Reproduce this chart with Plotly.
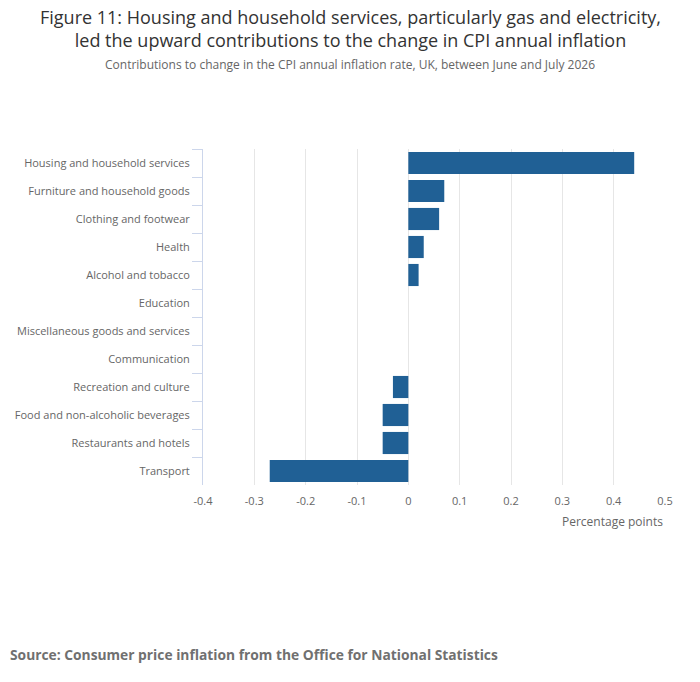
import plotly.graph_objects as go

categories = [
    "Housing and household services",
    "Furniture and household goods",
    "Clothing and footwear",
    "Health",
    "Alcohol and tobacco",
    "Education",
    "Miscellaneous goods and services",
    "Communication",
    "Recreation and culture",
    "Food and non-alcoholic beverages",
    "Restaurants and hotels",
    "Transport",
]
contributions = [0.44, 0.07, 0.06, 0.03, 0.02, 0.0, 0.0, 0.0, -0.03, -0.05, -0.05, -0.27]
x_ticks = [-0.4, -0.3, -0.2, -0.1, 0, 0.1, 0.2, 0.3, 0.4, 0.5]
x_tick_labels = ["-0.4", "-0.3", "-0.2", "-0.1", "0", "0.1", "0.2", "0.3", "0.4", "0.5"]

font = "Open Sans"

# page sits 8px in from the window corner, so plot box is placed in figure pixels
W, H = 700, 682
left, right, top, bottom = 195, 43, 141, 205
plot_w = W - left - right
plot_h = H - top - bottom


def px_x(fx):
    return (fx - left) / plot_w


def px_y(fy):
    return (H - bottom - fy) / plot_h


fig = go.Figure()
fig.add_trace(go.Bar(
    x=contributions,
    y=categories,
    orientation="h",
    marker=dict(color="#206095", line=dict(width=0)),
    hovertemplate="%{y}: %{x}<extra></extra>",
))

fig.update_layout(
    width=W,
    height=H,
    paper_bgcolor="white",
    plot_bgcolor="white",
    showlegend=False,
    bargap=0.21,
    margin=dict(l=left, r=right, t=top, b=bottom, autoexpand=False),
    font=dict(family=font, size=11, color="#666666"),
    xaxis=dict(
        range=[-0.4, 0.5],
        tickvals=x_ticks,
        ticktext=x_tick_labels,
        showgrid=True,
        gridcolor="#e6e6e6",
        gridwidth=1,
        zeroline=False,
        showline=False,
        ticks="",
        ticklabelstandoff=8,
        automargin=False,
        tickfont=dict(size=11, color="#666666"),
        fixedrange=True,
    ),
    yaxis=dict(
        autorange="reversed",
        tickson="boundaries",
        ticks="outside",
        ticklen=10,
        tickcolor="#ccd6eb",
        showline=True,
        linecolor="#ccd6eb",
        linewidth=1,
        showgrid=False,
        tickfont=dict(size=11, color="#666666"),
        ticklabelstandoff=10,
        automargin=False,
        fixedrange=True,
    ),
)

fig.add_annotation(
    text="Figure 11: Housing and household services, particularly gas and electricity,<br>"
         "led the upward contributions to the change in CPI annual inflation",
    xref="paper", yref="paper", x=px_x(342), xanchor="center",
    y=px_y(20.5), yanchor="middle",
    showarrow=False,
    font=dict(family=font, size=18, color="#333333"),
)
fig.add_annotation(
    text="Contributions to change in the CPI annual inflation rate, UK, between June and July 2026",
    xref="paper", yref="paper", x=px_x(342), xanchor="center",
    y=px_y(56), yanchor="middle",
    showarrow=False,
    font=dict(family=font, size=12, color="#666666"),
)
fig.add_annotation(
    text="Percentage points",
    xref="paper", yref="paper", x=1, xanchor="right",
    y=px_y(513), yanchor="middle",
    showarrow=False,
    font=dict(family=font, size=12, color="#666666"),
)
fig.add_annotation(
    text="<b>Source: Consumer price inflation from the Office for National Statistics</b>",
    xref="paper", yref="paper", x=px_x(0), xanchor="left",
    y=px_y(646), yanchor="middle",
    showarrow=False,
    font=dict(family=font, size=13.8, color="#707070"),
)

fig.write_html("out.html")
